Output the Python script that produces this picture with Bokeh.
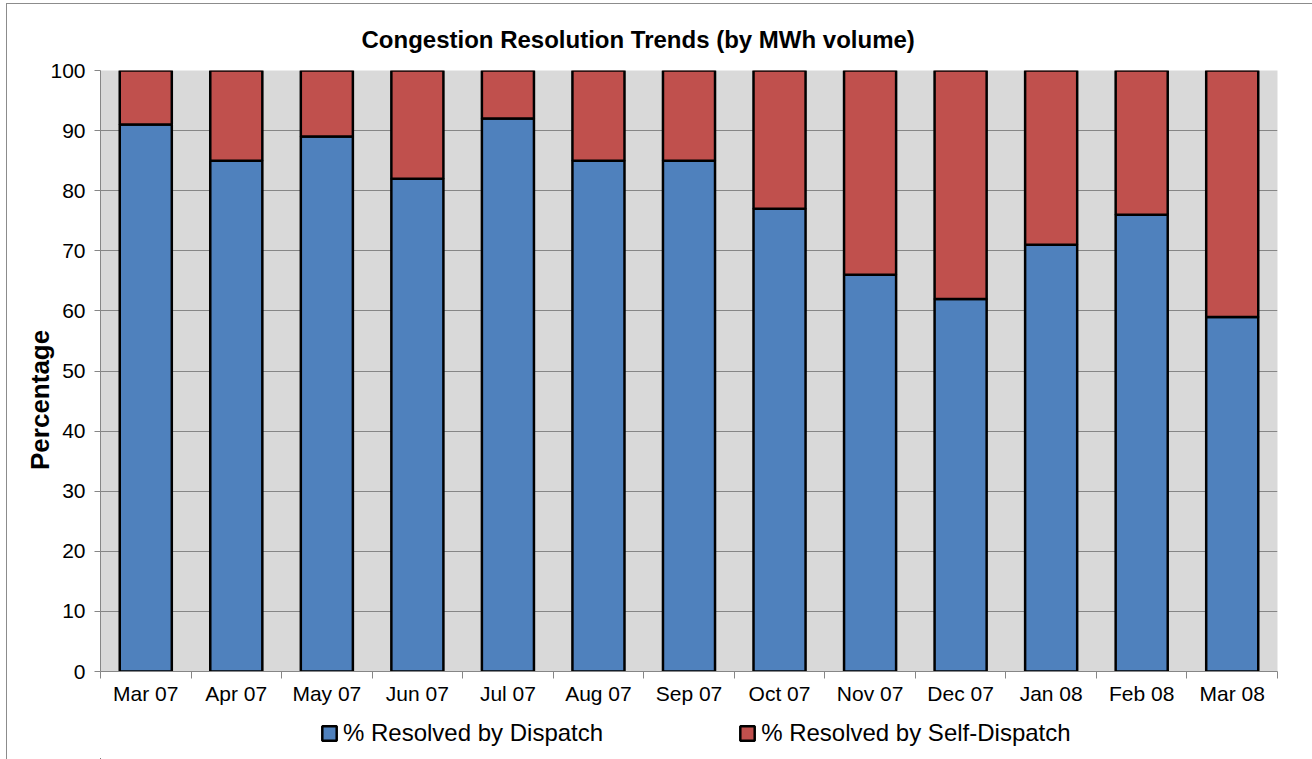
from bokeh.plotting import figure
from bokeh.layouts import column
from bokeh.models import (Range1d, LinearAxis, FixedTicker, Legend, LegendItem, ColumnDataSource, Title)
from bokeh.embed import file_html
from bokeh.resources import INLINE

months = ["Mar 07", "Apr 07", "May 07", "Jun 07", "Jul 07", "Aug 07", "Sep 07",
          "Oct 07", "Nov 07", "Dec 07", "Jan 08", "Feb 08", "Mar 08"]
dispatch = [91, 85, 89, 82, 92, 85, 85, 77, 66, 62, 71, 76, 59]
self_dispatch = [9, 15, 11, 18, 8, 15, 15, 23, 34, 38, 29, 24, 41]
y_ticks = [0, 10, 20, 30, 40, 50, 60, 70, 80, 90, 100]
series_names = ["% Resolved by Dispatch", "% Resolved by Self-Dispatch"]

FONT = "Liberation Sans"
BLUE = "#4F81BD"
RED = "#C0504D"
GRID = "#868686"

n = len(months)
xs = [i + 0.5 for i in range(n)]
tops = [d + s for d, s in zip(dispatch, self_dispatch)]
src = ColumnDataSource(dict(x=xs, d=dispatch, top=tops, zero=[0] * n))

W = 1305
p = figure(width=W, height=706, output_backend="svg", toolbar_location=None,
           x_range=Range1d(0, n), y_range=Range1d(0, 100),
           min_border_left=93, min_border_right=35, min_border_top=66, min_border_bottom=39,
           x_axis_type=None)
p.background_fill_color = "#D9D9D9"
p.border_fill_color = "white"
p.outline_line_color = None

title = Title(text="Congestion Resolution Trends (by MWh volume)", align="left", offset=261,
              text_font=FONT, text_font_size="24px", text_font_style="bold",
              text_color="black", standoff=36)
p.add_layout(title, "above")

r1 = p.vbar(x="x", bottom="zero", top="d", width=0.575, source=src,
            fill_color=BLUE, line_color="black", line_width=2.5)
r2 = p.vbar(x="x", bottom="d", top="top", width=0.575, source=src,
            fill_color=RED, line_color="black", line_width=2.5)

# x axis: labels at bar centres, tick marks between categories
xaxis = LinearAxis(ticker=FixedTicker(ticks=xs, minor_ticks=list(range(n + 1))))
xaxis.major_label_overrides = {x: m for x, m in zip(xs, months)}
xaxis.major_tick_line_color = None
xaxis.minor_tick_line_color = GRID
xaxis.minor_tick_out = 7
xaxis.minor_tick_in = 0
xaxis.axis_line_color = GRID
xaxis.axis_line_width = 1
xaxis.major_label_text_font = FONT
xaxis.major_label_text_font_size = "21px"
xaxis.major_label_text_color = "black"
xaxis.major_label_standoff = 3
p.add_layout(xaxis, "below")

ya = p.yaxis[0]
ya.ticker = FixedTicker(ticks=y_ticks)
ya.minor_tick_line_color = None
ya.major_tick_line_color = GRID
ya.major_tick_out = 6
ya.major_tick_in = 0
ya.axis_line_color = GRID
ya.major_label_text_font = FONT
ya.major_label_text_font_size = "21px"
ya.major_label_text_color = "black"
ya.major_label_standoff = 9
ya.axis_label = "Percentage" + "\u00a0" * 8
ya.axis_label_text_font = FONT
ya.axis_label_text_font_size = "26px"
ya.axis_label_text_font_style = "bold"
ya.axis_label_text_color = "black"
ya.axis_label_standoff = -8

p.xgrid.visible = False
p.ygrid.ticker = FixedTicker(ticks=y_ticks)
p.ygrid.grid_line_color = GRID
p.ygrid.grid_line_width = 1

# legend strip (separate figure so the legend is not clipped by the plot frame)
lf = figure(width=W, height=49, output_backend="svg", toolbar_location=None,
            x_range=Range1d(0, 1), y_range=Range1d(0, 1),
            min_border=0, x_axis_type=None, y_axis_type=None)
lf.outline_line_color = None
lf.grid.visible = False
lf.background_fill_color = "white"
lf.border_fill_color = "white"
# legend proxies (placed far outside the visible range)
l1 = lf.vbar(x=[-100], bottom=[-100], top=[-99], width=0.5, fill_color=BLUE, line_color="black", line_width=2.5)
l2 = lf.vbar(x=[-100], bottom=[-100], top=[-99], width=0.5, fill_color=RED, line_color="black", line_width=2.5)

legend = Legend(items=[LegendItem(label=series_names[0], renderers=[l1]),
                       LegendItem(label=series_names[1], renderers=[l2])],
                orientation="horizontal", location=(220, 12),
                padding=0, margin=0, spacing=135,
                glyph_width=18, glyph_height=18, label_standoff=5,
                label_text_font=FONT, label_text_font_size="24px", label_text_color="black",
                border_line_color=None, background_fill_alpha=0)
lf.add_layout(legend, "center")

layout = column(p, lf, spacing=0)
layout.styles = {"margin-left": "7px", "margin-top": "4px", "outline": "1.5px solid #8c8c8c"}

open("out.html", "w").write(file_html(layout, INLINE))
